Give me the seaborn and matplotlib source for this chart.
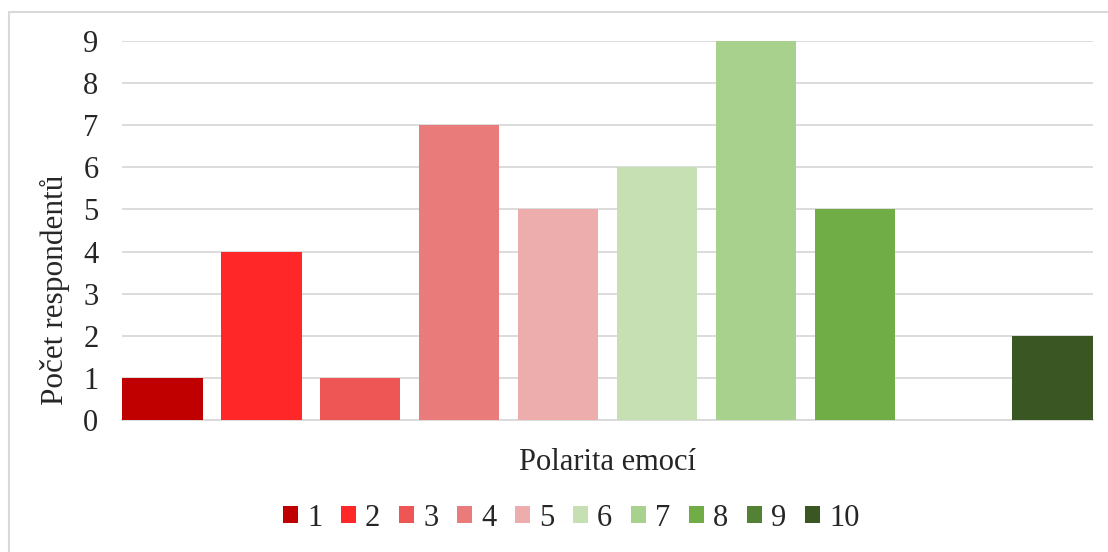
import matplotlib
matplotlib.use("Agg")
import matplotlib.pyplot as plt
import seaborn as sns
import pandas as pd
from matplotlib.patches import Rectangle

categories = ["1", "2", "3", "4", "5", "6", "7", "8", "9", "10"]
values = [1, 4, 1, 7, 5, 6, 9, 5, 0, 2]
colors = ["#C00000", "#FF2727", "#EE5555", "#EA7B7B", "#EDADAD",
          "#C6E0B4", "#A9D18E", "#70AD47", "#548235", "#3A5723"]
yticks = list(range(0, 10))

sns.set_theme(style="white")
plt.rcParams['font.family'] = ['Liberation Serif', 'DejaVu Serif']

df = pd.DataFrame({"cat": categories, "val": values})

fig = plt.figure(figsize=(11.08, 5.52), dpi=100)
ax = fig.add_axes([122/1108, 1 - 420/552, (1093 - 122)/1108, (420 - 41)/552])

sns.barplot(data=df, x="cat", y="val", hue="cat", palette=colors,
            order=categories, hue_order=categories, width=0.815,
            dodge=False, saturation=1, legend=True, ax=ax, zorder=3,
            linewidth=0)

ax.set_xlim(-0.4075, 9.4075)
ax.set_ylim(0, 9)
ax.set_yticks(yticks)
ax.set_yticklabels([str(t) for t in yticks], fontsize=22)
ax.tick_params(axis="y", length=0, pad=17)
ax.set_xticks([])
ax.yaxis.grid(True, color="#D9D9D9", linewidth=1.3, zorder=0)
for s in ["top", "right", "left"]:
    ax.spines[s].set_visible(False)
ax.spines["bottom"].set_color("#D9D9D9")
ax.spines["bottom"].set_linewidth(1.3)

ax.set_xlabel("Polarita emocí", fontsize=22, labelpad=20)
ax.set_ylabel("Počet respondentů", fontsize=22.5, va="center")
ax.yaxis.set_label_coords((55 - 122)/971, (420 - 290)/379)

sns.move_legend(ax, "center", bbox_to_anchor=(0.5 + (571 - 607.5)/971, (420 - 518)/379),
                ncol=10, frameon=False, title=None, fontsize=22,
                handlelength=0.5, handleheight=0.5, handletextpad=0.3,
                columnspacing=0.6)

fig.patches.append(Rectangle((9/1108, -0.1), 1.2, 1 - 12/552 + 0.1,
                             transform=fig.transFigure, fill=False,
                             edgecolor="#D9D9D9", linewidth=1.5))

fig.savefig("out.png", dpi=100)
